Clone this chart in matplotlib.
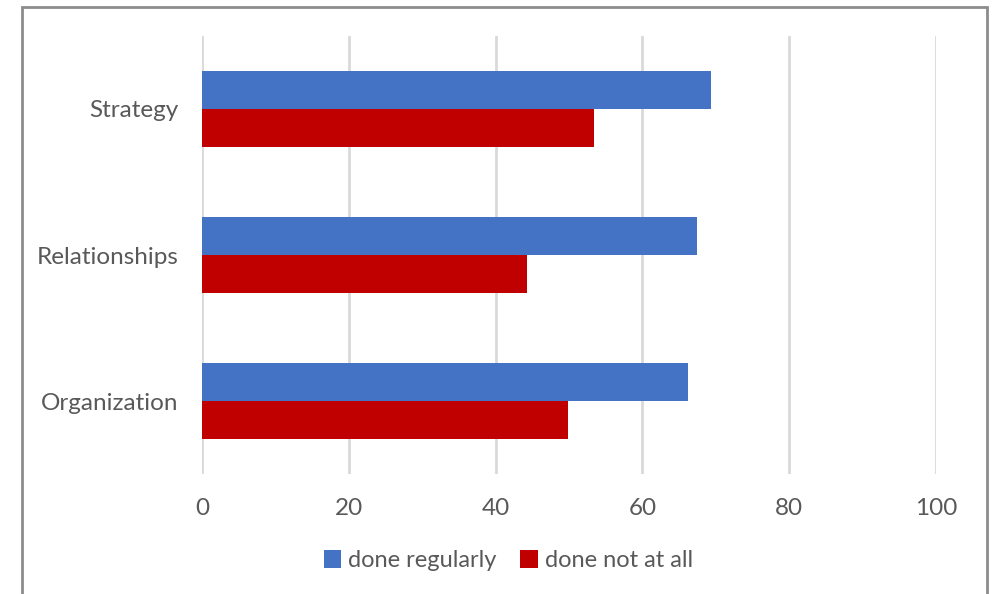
import numpy as np
import matplotlib.pyplot as plt
from matplotlib.patches import Rectangle

categories = ['Organization', 'Relationships', 'Strategy']
done_regularly = [66.2, 67.4, 69.3]
done_not_at_all = [49.9, 44.3, 53.4]
x_ticks = [0, 20, 40, 60, 80, 100]

plt.rcParams['font.family'] = ['Lato', 'DejaVu Sans']
text_color = '#595959'

fig = plt.figure(figsize=(9.95, 5.94), dpi=100)
ax = fig.add_axes([0.203, 0.202, 0.7377, 0.7374])

y = np.arange(len(categories))
h = 0.26
ax.barh(y + h / 2, done_regularly, h, color='#4472C4', label='done regularly', zorder=3)
ax.barh(y - h / 2, done_not_at_all, h, color='#C00000', label='done not at all', zorder=3)

ax.set_xlim(0, 100)
ax.set_ylim(-0.5, 2.5)
ax.set_xticks(x_ticks)
ax.set_yticks(y)
ax.set_yticklabels(categories)
ax.tick_params(length=0, labelsize=17.5, colors=text_color)
ax.tick_params(axis='x', pad=17)
ax.tick_params(axis='y', pad=17)
ax.grid(axis='x', color='#d9d9d9', linewidth=2, zorder=0)
for s in ax.spines.values():
    s.set_visible(False)

leg = fig.legend(loc='center', bbox_to_anchor=(0.511, 0.056), ncol=2, frameon=False,
                 fontsize=17, handlelength=0.75, handleheight=0.75, handletextpad=0.3,
                 columnspacing=1.0)
for t in leg.get_texts():
    t.set_color(text_color)

fig.patches.append(Rectangle((22 / 995, -0.05), (987 - 22) / 995, 1.05 - 7 / 594,
                             transform=fig.transFigure, fill=False,
                             edgecolor='#8c8c8c', linewidth=2, clip_on=False))

fig.savefig('out.png', dpi=100)
